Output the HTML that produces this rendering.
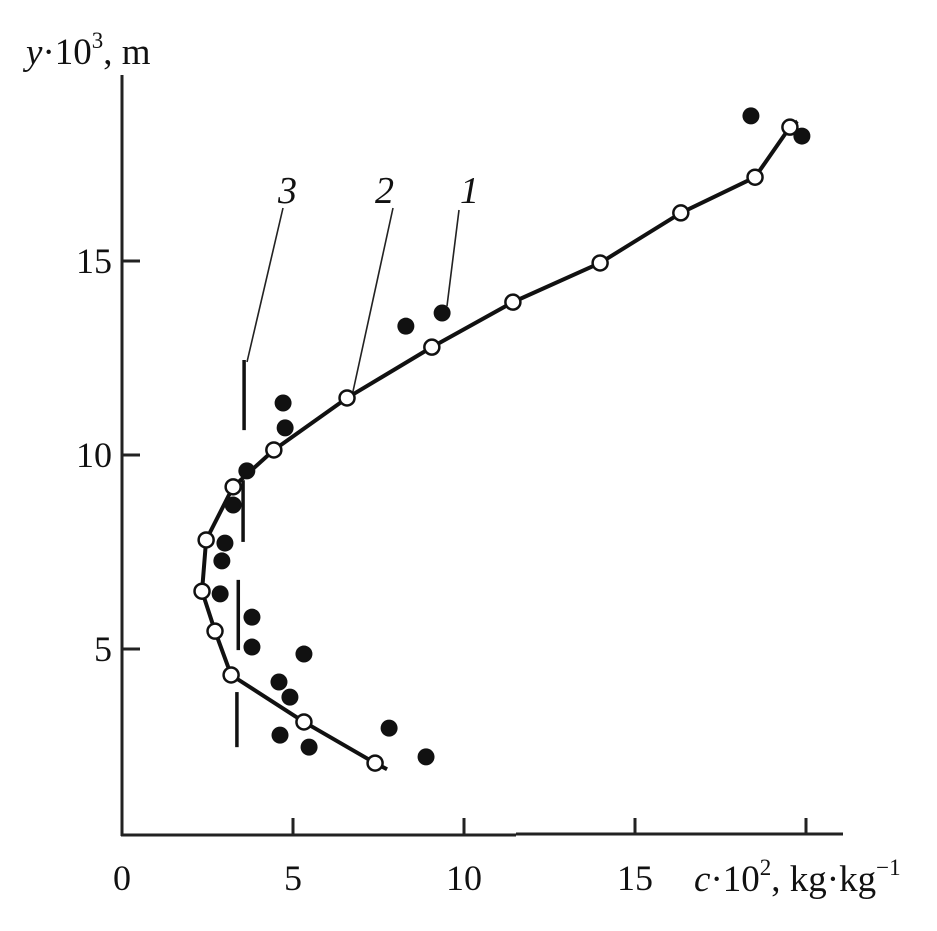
<!DOCTYPE html>
<html><head><meta charset="utf-8"><style>
html,body{margin:0;padding:0;background:#fff}
svg{display:block;font-family:"Liberation Serif",serif}
</style></head><body>
<svg id="chart" width="937" height="931" viewBox="0 0 937 931" xmlns="http://www.w3.org/2000/svg">
<g id="axes" stroke="#222" stroke-width="3" fill="none">
<line x1="122" y1="75" x2="122" y2="836"/>
<line x1="121" y1="835" x2="516" y2="835"/>
<line x1="516" y1="834" x2="843" y2="834"/>
</g>
<g id="ticks"></g>
<g id="lines" stroke="#222" stroke-width="1.6">
<line x1="283" y1="208" x2="247" y2="362"/>
<line x1="393" y1="208" x2="352" y2="396"/>
<line x1="459" y1="210" x2="447" y2="306"/>
</g>
<g id="marks"></g>
<g font-size="38" font-style="italic" fill="#111">
<text x="278" y="203">3</text>
<text x="375" y="203">2</text>
<text x="460" y="203">1</text>
</g>
<text x="26" y="64" font-size="37" fill="#111"><tspan font-style="italic">y</tspan>·10<tspan font-size="23" dy="-16">3</tspan><tspan dy="16">, m</tspan></text>
<text x="694" y="891" font-size="37" fill="#111"><tspan font-style="italic">c</tspan>·10<tspan font-size="23" dy="-16">2</tspan><tspan dy="16">, kg·kg</tspan><tspan font-size="23" dy="-16">−1</tspan></text>
</svg>
<script>
const xTicks=[0,5,10,15,20];
const xTickLabels=["0","5","10","15",""];
const yTicks=[5,10,15];
const yTickLabels=["5","10","15"];
const curveX=[7.75,7.4,5.32,3.19,2.72,2.34,2.46,3.25,4.44,6.58,9.06,11.43,13.98,16.34,18.51,19.53,19.75];
const curveY=[1.9,2.06,3.12,4.33,5.46,6.49,7.81,9.18,10.13,11.47,12.78,13.94,14.95,16.24,17.16,18.45,18.6];
const openX=[7.4,5.32,3.19,2.72,2.34,2.46,3.25,4.44,6.58,9.06,11.43,13.98,16.34,18.51,19.53];
const openY=[2.06,3.12,4.33,5.46,6.49,7.81,9.18,10.13,11.47,12.78,13.94,14.95,16.24,17.16,18.45];
const filledX=[18.39,19.88,9.36,8.3,4.71,4.77,3.65,3.25,3.01,2.92,2.87,3.8,3.8,5.32,4.59,4.91,4.62,5.47,7.81,8.89];
const filledY=[18.74,18.22,13.66,13.32,11.34,10.7,9.59,8.71,7.73,7.27,6.42,5.82,5.05,4.87,4.15,3.76,2.78,2.47,2.96,2.22];
const seg3X=[3.57,3.54,3.4,3.36];
const seg3Top=[12.45,9.35,6.78,3.89];
const seg3Bottom=[10.64,7.76,4.97,2.47];

const sx=v=>122+v*34.2;
const sy=v=>843-v*38.8;
const NS="http://www.w3.org/2000/svg";
function mk(tag,attrs,parent){const e=document.createElementNS(NS,tag);for(const k in attrs)e.setAttribute(k,attrs[k]);parent.appendChild(e);return e;}
const ticks=document.getElementById('ticks');
const marks=document.getElementById('marks');
xTicks.forEach((v,i)=>{
  if(v>0){const t=mk('line',{x1:sx(v),y1:835,x2:sx(v),y2:818,stroke:'#222','stroke-width':3},ticks);
  
  }
  if(xTickLabels[i]){const l=mk('text',{x:sx(v),y:890,'font-size':36,'text-anchor':'middle',fill:'#111'},ticks);l.textContent=xTickLabels[i];
  
  }
});
yTicks.forEach((v,i)=>{
  const t=mk('line',{x1:122,y1:sy(v),x2:140,y2:sy(v),stroke:'#222','stroke-width':3},ticks);
  
  
  const l=mk('text',{x:112,y:sy(v)+12,'font-size':36,'text-anchor':'end',fill:'#111'},ticks);l.textContent=yTickLabels[i];
  
  
});
seg3X.forEach((v,i)=>{
  const s=mk('line',{x1:sx(v),y1:sy(seg3Top[i]),x2:sx(v),y2:sy(seg3Bottom[i]),stroke:'#111','stroke-width':3.5},marks);
  
  
});
const pts=curveX.map((v,i)=>sx(v)+','+sy(curveY[i])).join(' ');
const pl=mk('polyline',{points:pts,fill:'none',stroke:'#111','stroke-width':4,'stroke-linejoin':'round'},marks);


filledX.forEach((v,i)=>{
  const c=mk('circle',{cx:sx(v),cy:sy(filledY[i]),r:8.5,fill:'#111'},marks);
  
  
});
openX.forEach((v,i)=>{
  const c=mk('circle',{cx:sx(v),cy:sy(openY[i]),r:7.5,fill:'#fff',stroke:'#111','stroke-width':2.5},marks);
  
  
});
</script>
</body></html>
